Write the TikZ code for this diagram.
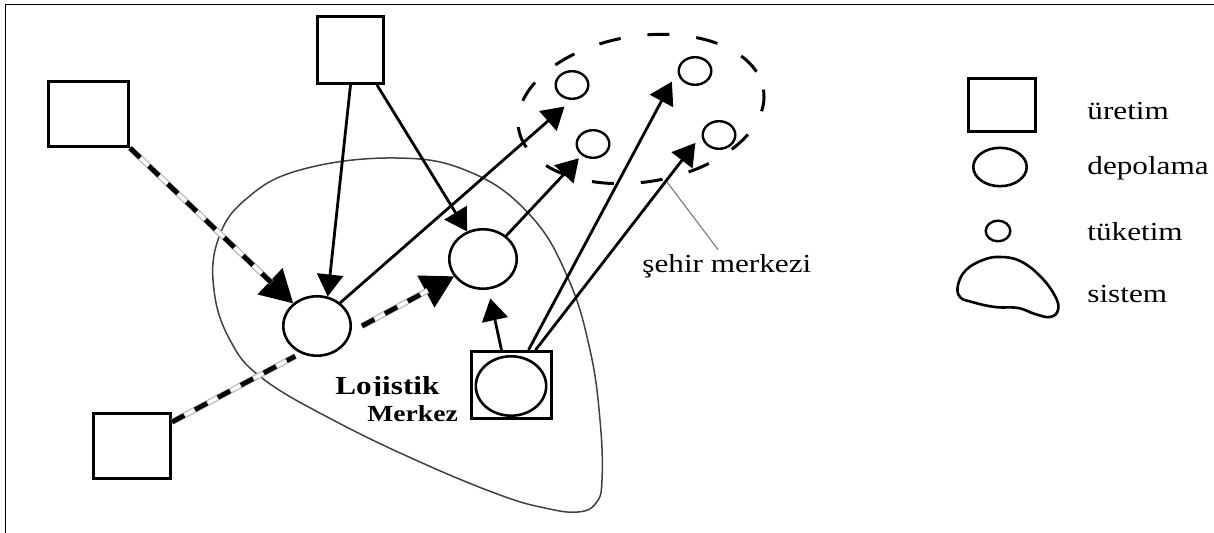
\documentclass[tikz,border=0pt]{standalone}
\usepackage{fontspec}
\setmainfont{Liberation Serif}
\newfontfamily\reff[FakeStretch=1.2]{Liberation Serif}
\usetikzlibrary{arrows.meta,shapes.geometric,calc}
\begin{document}
\begin{tikzpicture}[x=0.5pt,y=-0.5pt,
  box/.style={draw, line width=1.7pt, inner sep=0pt},
  store/.style={ellipse, draw, line width=1.3pt, inner sep=0pt},
  cons/.style={ellipse, draw, line width=1.2pt, inner sep=0pt, minimum width=16.3pt, minimum height=13.8pt},
  arr/.style={line width=1.4pt, -{Triangle[length=11pt,width=13pt]}},
  bigarr/.style={line width=1pt, -{Triangle[length=16pt,width=18pt]}},
  rail/.style={draw=gray!55, line width=3pt,
     postaction={draw=white, line width=1.7pt},
     postaction={draw=black, line width=2.4pt, dash pattern=on 7pt off 6pt}},
  sysline/.style={draw=black!75, line width=0.75pt},
  cityline/.style={draw, line width=1.5pt, dash pattern=on 11pt off 13.5pt},
  pointer/.style={draw=gray, line width=0.6pt},
  lab/.style={inner sep=0pt, font=\reff\fontsize{13pt}{15pt}\selectfont},
  boldlab/.style={inner sep=0pt, font=\reff\bfseries\fontsize{13pt}{15pt}\selectfont},
]
\useasboundingbox (0,0) rectangle (1214,533);
% frame
\draw[line width=0.8pt] (5.5,533) -- (5.5,4.5) -- (1214,4.5);

% system boundary
\draw[sysline] plot[smooth cycle, tension=0.7] coordinates {
 (395,158) (470,172) (530,215) (568,278) (590,350) (600,420) (602,480)
 (596,503) (578,512) (545,508) (500,495) (420,462) (333,420) (262,378)
 (230,340) (214,290) (218,240) (245,200) (300,170)};

% city centre
\draw[cityline] (641,109) ellipse [x radius=124, y radius=73, rotate=9];

% nodes
\node[box, minimum width=39.8pt, minimum height=32.3pt] (A) at (88.5,114) {};
\node[box, minimum width=32.8pt, minimum height=33.3pt] (B) at (350.5,50) {};
\node[box, minimum width=38.3pt, minimum height=32.3pt] (C) at (132,446) {};
\node[box, minimum width=39.8pt, minimum height=33.3pt] (L) at (511.5,385) {};
\node[store, minimum width=35.2pt, minimum height=29.7pt] (Lin) at (511,386) {};
\node[store, minimum width=33.7pt, minimum height=29.7pt] (D1) at (317,326) {};
\node[store, minimum width=33.7pt, minimum height=29.7pt] (D2) at (483,259) {};
\node[cons] (C1) at (572,85) {};
\node[cons] (C2) at (593,144) {};
\node[cons] (C3) at (695,71) {};
\node[cons] (C4) at (719,135) {};

% solid arrows
\draw[arr] (B.south) -- (D1.70);
\draw[arr] ($(B.south east)+(-8,0)$) -- (D2.120);
\draw[arr, shorten >=5pt] (D1.45) -- (C1.south);
\draw[arr, shorten >=2pt] (D2.45) -- (C2.225);
\draw[arr, shorten >=4.5pt] ($(L.north)+(-10,0)$) -- (D2.280);
\draw[arr, shorten >=6pt] ($(L.north)+(17,0)$) -- (C3.west);
\draw[arr, shorten >=5pt] ($(L.north)+(24,0)$) -- (C4.west);

% rail connectors
\draw[bigarr] (A.south east) -- (D1);
\draw[rail, shorten >=15pt] (A.south east) -- (D1);
\draw[bigarr] ($(D1.east)+(10,0)$) -- (D2.211);
\draw[rail, shorten >=15pt] ($(D1.east)+(10,0)$) -- (D2.211);
\draw[rail, shorten >=3pt] ($(C.north east)+(0,10)$) -- (D1.239);

% labels
\begin{scope}
\clip (300,350) rectangle (470,396);
\node[boldlab, anchor=base west] (lt1) at (335,395) {Lojistik};
\end{scope}
\node[boldlab, anchor=base west, font=\reff\bfseries\fontsize{11.5pt}{13pt}\selectfont] (lt2) at (367,422) {Merkez};

\node[lab, anchor=base west] (sm) at (642,273) {şehir merkezi};
\coordinate (smp) at (667,182);
\draw[pointer] (smp) -- ($(sm.north west)+(76,-5)$);

% legend
\node[box, minimum width=33.3pt, minimum height=26.3pt] (g1) at (1002,105) {};
\node[store, minimum width=26.7pt, minimum height=19.2pt] (g2) at (1000,167) {};
\node[store, line width=1.2pt, minimum width=12.3pt, minimum height=10.3pt] (g3) at (998,231) {};
\draw[line width=1.3pt] plot[smooth cycle, tension=0.7] coordinates {
 (960,297) (958,285) (966,270) (983,260) (1000,257) (1020,261) (1040,276)
 (1055,296) (1058,310) (1050,317) (1035,314) (1018,308) (995,307) (972,302)};
\node[lab, anchor=base west] (l1) at (1087,120) {üretim};
\node[lab, anchor=base west] (l2) at (1087,175) {depolama};
\node[lab, anchor=base west] (l3) at (1087,241) {tüketim};
\node[lab, anchor=base west] (l4) at (1087,303) {sistem};
\end{tikzpicture}
\end{document}
